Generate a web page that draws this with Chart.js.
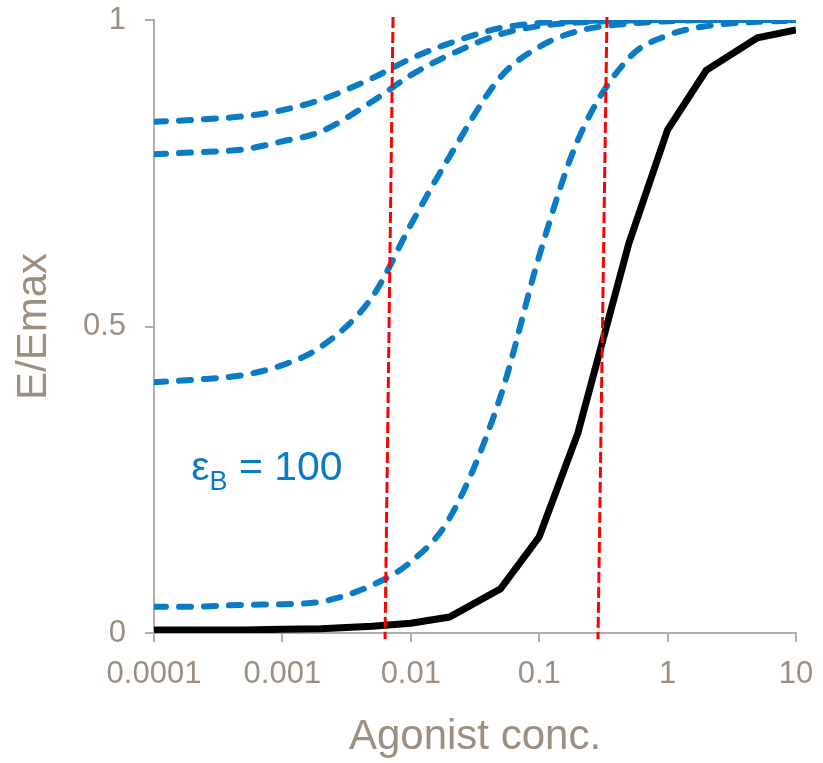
<!DOCTYPE html>
<html>
<head>
<meta charset="utf-8">
<script src="https://cdn.jsdelivr.net/npm/chart.js@4"></script>
<style>
  html, body { margin: 0; padding: 0; background: #fff; }
  #chart { display: block; }
</style>
</head>
<body>
<canvas id="chart" width="823" height="763"></canvas>
<script>
// ── Data ─────────────────────────────────────────────────────────
const concs = [0.0001, 0.0002, 0.0005, 0.001, 0.002, 0.005, 0.01, 0.02, 0.05, 0.1, 0.2, 0.5, 1, 2, 5, 10];
const agonistOnly = [0.005, 0.005, 0.005, 0.006, 0.007, 0.011, 0.016, 0.026, 0.072, 0.157, 0.326, 0.636, 0.821, 0.918, 0.971, 0.984];
const blueA = [0.834, 0.837, 0.843, 0.853, 0.870, 0.905, 0.937, 0.962, 0.987, 0.995, 0.998, 1, 1, 1, 1, 1];
const blueB = [0.781, 0.784, 0.789, 0.802, 0.818, 0.867, 0.910, 0.943, 0.977, 0.990, 0.996, 0.999, 1, 1, 1, 1];
const blueC = [0.409, 0.413, 0.421, 0.437, 0.467, 0.548, 0.666, 0.777, 0.907, 0.956, 0.982, 0.994, 0.998, 1, 1, 1];
const blueD = [0.043, 0.043, 0.046, 0.047, 0.051, 0.078, 0.116, 0.187, 0.386, 0.615, 0.804, 0.938, 0.975, 0.990, 0.997, 0.999];
const redLine1X = [0.00727, 0.0063];
const redLine2X = [0.337, 0.287];
const redLineY = [1.005, -0.01];
const xTicks = [0.0001, 0.001, 0.01, 0.1, 1, 10];
const yTicks = [0, 0.5, 1];
const labelPos = { x: 0.000195, y: 0.25 };

const FONT = "'Liberation Sans', Arial, sans-serif";
const TXT = '#9c8f81';
const AXIS = '#b6aea6';
const BLUE = '#0a7bc5';

const pts = ys => concs.map((x, i) => ({ x, y: ys[i] }));
const vline = xs => xs.map((x, i) => ({ x, y: redLineY[i] }));

const blueSet = ys => ({
  data: pts(ys), borderColor: BLUE, borderWidth: 6, borderDash: [12, 13], borderCapStyle: 'round',
  cubicInterpolationMode: 'monotone', pointRadius: 0
});
const redSet = xs => ({
  data: vline(xs), borderColor: '#ff0000', borderWidth: 3, borderDash: [11, 4], pointRadius: 0, clip: false
});

// ── Annotation: eps_B = 100 ─────────────────────────────────────
const epsLabel = {
  id: 'epsLabel',
  afterDatasetsDraw(chart) {
    const { ctx, scales: { x, y } } = chart;
    const px = x.getPixelForValue(labelPos.x), py = y.getPixelForValue(labelPos.y);
    ctx.save();
    ctx.fillStyle = BLUE;
    ctx.textBaseline = 'alphabetic';
    ctx.font = `41px ${FONT}`;
    ctx.fillText('ε', px, py);
    let w = ctx.measureText('ε').width;
    ctx.font = `27px ${FONT}`;
    ctx.fillText('B', px + w, py + 10);
    w += ctx.measureText('B').width;
    ctx.font = `41px ${FONT}`;
    ctx.fillText(' = 100', px + w, py);
    ctx.restore();
  }
};

new Chart(document.getElementById('chart'), {
  type: 'line',
  data: {
    datasets: [
      redSet(redLine1X),
      redSet(redLine2X),
      blueSet(blueA),
      blueSet(blueB),
      blueSet(blueC),
      blueSet(blueD),
      { data: pts(agonistOnly), borderColor: '#000', borderWidth: 7, pointRadius: 0, tension: 0 }
    ]
  },
  options: {
    responsive: false,
    animation: false,
    events: [],
    layout: { padding: { top: 20, right: 27, left: 0, bottom: 0 } },
    plugins: { legend: { display: false }, tooltip: { enabled: false } },
    scales: {
      x: {
        type: 'logarithmic', min: 0.0001, max: 10,
        afterBuildTicks: s => { s.ticks = xTicks.map(v => ({ value: v })); },
        afterFit: s => { s.height = 130; s.paddingLeft = 0; s.paddingRight = 0; },
        ticks: { color: TXT, font: { family: FONT, size: 31 }, padding: 14, maxRotation: 0, autoSkip: false,
                 callback: v => String(v) },
        grid: { drawOnChartArea: false, drawTicks: true, tickLength: 9, color: AXIS, lineWidth: 2 },
        border: { color: AXIS, width: 2 },
        title: { display: true, text: 'Agonist conc.', color: TXT, font: { family: FONT, size: 42 }, padding: { top: 0, bottom: 0 } }
      },
      y: {
        min: 0, max: 1,
        afterBuildTicks: s => { s.ticks = yTicks.map(v => ({ value: v })); },
        afterFit: s => { s.width = 154; s.paddingTop = 0; s.paddingBottom = 0; },
        ticks: { color: TXT, font: { family: FONT, size: 31 }, padding: 19, callback: v => String(v) },
        grid: { drawOnChartArea: false, drawTicks: true, tickLength: 9, color: AXIS, lineWidth: 2 },
        border: { color: AXIS, width: 2 },
        title: { display: true, text: 'E/Emax', color: TXT, font: { family: FONT, size: 42 }, padding: { top: 9, bottom: 0 } }
      }
    }
  },
  plugins: [epsLabel]
});
</script>
</body>
</html>
